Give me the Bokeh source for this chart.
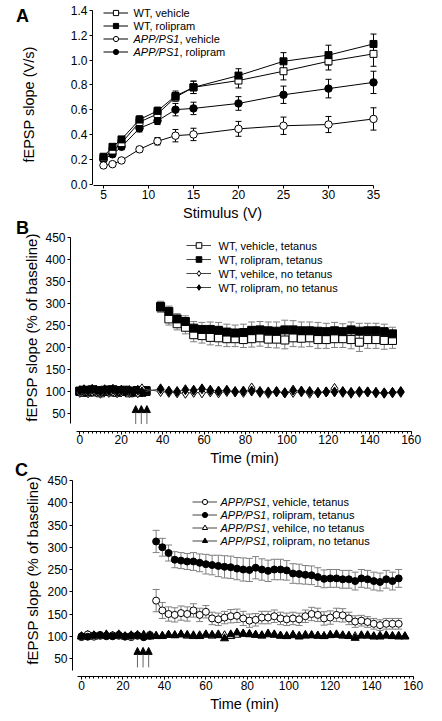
import math
from bokeh.plotting import figure
from bokeh.models import (ColumnDataSource, Whisker, TeeHead, Legend, LegendItem, Label,
                          FixedTicker, PrintfTickFormatter, Range1d, Arrow, NormalHead,
                          LinearAxis)
from bokeh.embed import file_html
from bokeh.resources import INLINE

FONT = "Liberation Sans"

# ---------------- Panel A data ----------------
stim = [5, 6, 7, 9, 11, 13, 15, 20, 25, 30, 35]
a_wt_veh = [0.21, 0.27, 0.33, 0.50, 0.565, 0.70, 0.78, 0.835, 0.91, 0.99, 1.05]
a_wt_veh_err = [0.02, 0.02, 0.02, 0.03, 0.03, 0.03, 0.05, 0.06, 0.07, 0.07, 0.10]
a_wt_rol = [0.22, 0.30, 0.36, 0.52, 0.59, 0.71, 0.78, 0.875, 0.99, 1.04, 1.13]
a_wt_rol_err = [0.02, 0.02, 0.02, 0.03, 0.03, 0.04, 0.05, 0.055, 0.07, 0.08, 0.08]
a_app_veh = [0.15, 0.16, 0.19, 0.28, 0.345, 0.39, 0.40, 0.445, 0.47, 0.48, 0.525]
a_app_veh_err = [0.01, 0.01, 0.01, 0.02, 0.03, 0.05, 0.05, 0.06, 0.07, 0.065, 0.09]
a_app_rol = [0.20, 0.24, 0.30, 0.45, 0.51, 0.60, 0.61, 0.65, 0.72, 0.77, 0.82]
a_app_rol_err = [0.02, 0.02, 0.02, 0.03, 0.03, 0.05, 0.05, 0.055, 0.07, 0.075, 0.09]
a_xticks = [5, 10, 15, 20, 25, 30, 35]
a_yticks = [0.0, 0.2, 0.4, 0.6, 0.8, 1.0, 1.2, 1.4]

# ---------------- Panel B data ----------------
b_base_t = [0, 2, 4, 6, 8, 10, 12, 14, 16, 18, 20, 22, 24, 26, 28, 30, 32]
b_wt_veh_base = [100, 98, 102, 99, 101, 97, 100, 103, 99, 98, 101, 100, 97, 99, 102, 98, 100]
b_wt_rol_base = [101, 103, 99, 104, 102, 100, 103, 101, 104, 102, 100, 103, 101, 99, 102, 100, 102]
b_post_t = [39, 43, 47, 51, 55, 59, 63, 67, 71, 75, 79, 83, 87, 91, 95, 99, 103, 107, 111,
            115, 119, 123, 127, 131, 135, 139, 143, 147, 151]
b_wt_veh_tet = [292, 265, 254, 246, 229, 227, 223, 222, 220, 220, 218, 220, 222, 219, 219,
                217, 222, 221, 222, 218, 218, 220, 220, 218, 212, 218, 218, 216, 216]
b_wt_veh_tet_err = [12, 14, 14, 15, 16, 17, 17, 18, 18, 18, 18, 19, 19, 19, 20, 20, 20, 20,
                    20, 20, 20, 20, 20, 21, 21, 20, 20, 20, 18]
b_wt_rol_tet = [293, 282, 265, 259, 244, 241, 241, 239, 235, 233, 234, 239, 240, 238, 237,
                240, 240, 238, 238, 237, 236, 238, 236, 240, 237, 238, 238, 236, 231]
b_wt_rol_tet_err = [12, 12, 12, 13, 15, 16, 17, 18, 18, 18, 19, 19, 19, 20, 21, 22, 21, 20,
                    20, 20, 19, 19, 18, 18, 18, 17, 17, 17, 15]
b_nt_t = [0, 2, 4, 6, 8, 10, 12, 14, 16, 18, 20, 22, 24, 26, 28, 30,
          39, 43, 47, 51, 55, 59, 63, 67, 71, 75, 79, 83, 87, 91, 95, 99, 103, 107, 111,
          115, 119, 123, 127, 131, 135, 139, 143, 147, 151, 155]
b_wt_veh_nt = [98, 101, 97, 100, 99, 96, 101, 98, 100, 97, 99, 101, 98, 100, 97, 106,
               100, 98, 97, 96, 98, 97, 99, 97, 100, 99, 98, 108, 98, 96, 99, 97, 98, 99,
               96, 97, 99, 107, 98, 96, 98, 99, 97, 96, 97, 98]
b_wt_rol_nt = [102, 104, 101, 105, 103, 100, 104, 102, 105, 101, 103, 100, 102, 99, 103, 99,
               106, 101, 100, 104, 103, 106, 103, 101, 103, 100, 101, 101, 100, 99, 100, 97,
               103, 101, 100, 98, 99, 99, 100, 98, 100, 99, 98, 97, 98, 100]

# ---------------- Panel C data ----------------
c_base_t = [0, 3, 6, 9, 12, 15, 18, 21, 24, 27, 30, 33]
c_app_veh_base = [98, 104, 99, 101, 100, 102, 101, 99, 98, 101, 99, 103]
c_app_rol_base = [100, 99, 102, 103, 101, 100, 103, 100, 101, 102, 98, 101]
c_post_t = [36, 39, 42, 45, 48, 51, 54, 57, 60, 63, 66, 69, 72, 75, 78, 81, 84, 87, 90, 93,
            96, 99, 102, 105, 108, 111, 114, 117, 120, 123, 126, 129, 132, 135, 138, 141,
            144, 147, 150, 153]
c_app_rol_tet = [313, 300, 287, 272, 270, 268, 268, 265, 262, 260, 258, 256, 255, 252, 250,
                 249, 254, 250, 247, 250, 250, 248, 241, 240, 238, 237, 233, 229, 230, 230,
                 228, 228, 224, 230, 228, 224, 222, 228, 224, 230]
c_app_rol_tet_err = [25, 20, 18, 18, 18, 18, 20, 20, 22, 22, 24, 25, 25, 25, 26, 26, 25, 24,
                     24, 23, 23, 22, 22, 22, 21, 21, 21, 20, 20, 20, 20, 20, 20, 20, 20, 20,
                     20, 20, 20, 20]
c_app_veh_tet = [180, 158, 150, 148, 152, 150, 158, 148, 155, 140, 138, 142, 145, 146, 140,
                 135, 137, 142, 142, 145, 140, 138, 140, 138, 145, 150, 148, 140, 142, 148,
                 147, 140, 133, 135, 132, 128, 125, 128, 128, 128]
c_app_veh_tet_err = [25, 18, 16, 16, 16, 16, 15, 15, 14, 14, 14, 14, 15, 15, 16, 15, 14, 14,
                     14, 14, 14, 14, 14, 14, 14, 15, 15, 15, 15, 15, 15, 14, 13, 12, 12, 12,
                     12, 12, 12, 12]
c_nt_t = [0, 3, 6, 9, 12, 15, 18, 21, 24, 27, 30, 33, 36, 39, 42, 45, 48, 51, 54, 57, 60, 63,
          66, 69, 72, 75, 78, 81, 84, 87, 90, 93, 96, 99, 102, 105, 108, 111, 114, 117, 120,
          123, 126, 129, 132, 135, 138, 141, 144, 147, 150, 153, 156]
c_app_veh_nt = [100, 103, 99, 101, 104, 100, 102, 99, 101, 103,
                100, 102, 101, 100, 103, 102, 104, 101, 100, 102,
                103, 101, 104, 102, 100, 103, 105, 104, 103, 101,
                106, 104, 101, 100, 102, 101, 103, 102, 101, 100,
                103, 104, 102, 101, 100, 102, 101, 99, 101, 102,
                100, 101, 99]
c_app_rol_nt = [99, 101, 102, 100, 103, 101, 104, 100, 102, 101,
                103, 99, 100, 101, 103, 102, 104, 103, 102, 100,
                104, 103, 102, 95, 104, 108, 106, 105, 103, 102,
                104, 103, 101, 100, 103, 99, 101, 102, 101, 100,
                102, 103, 101, 100, 96, 101, 102, 100, 99, 101,
                100, 99, 100]

time_ticks = [0, 20, 40, 60, 80, 100, 120, 140, 160]
time_minor = [0, 2, 4, 6, 8, 10, 12, 14, 16, 18, 20, 22, 24, 26, 28, 30, 32, 34, 36, 38, 40,
              42, 44, 46, 48, 50, 52, 54, 56, 58, 60, 62, 64, 66, 68, 70, 72, 74, 76, 78, 80,
              82, 84, 86, 88, 90, 92, 94, 96, 98, 100, 102, 104, 106, 108, 110, 112, 114, 116,
              118, 120, 122, 124, 126, 128, 130, 132, 134, 136, 138, 140, 142, 144, 146, 148,
              150, 152, 154, 156, 158, 160]
pct_ticks = [50, 100, 150, 200, 250, 300, 350, 400, 450]
tetanus_times = [27.0, 29.7, 32.4]

ITALIC_W = 45.9  # width of italic "APP/PS1" at 11px
W, H = 442, 721

# One canvas; each panel has its own x/y range mapping onto it.
p = figure(width=W, height=H, x_range=Range1d(-6.444, 42.667), y_range=Range1d(-4.337, 1.4807),
           output_backend="svg", toolbar_location=None,
           min_border=0, min_border_left=0, min_border_top=0,
           min_border_right=0, min_border_bottom=0)
p.extra_x_ranges = {"xB": Range1d(-38.29, 175.14), "xC": Range1d(-39.07, 174.14)}
p.extra_y_ranges = {"yB": Range1d(-650.0, 988.6), "yC": Range1d(-91.57, 1528.65)}
p.outline_line_color = None
p.grid.visible = False


def style_axis(ax, label_standoff):
    ax.axis_line_color = "black"
    ax.axis_line_width = 1
    ax.major_tick_line_color = "black"
    ax.major_tick_in = 0
    ax.major_tick_out = 3
    ax.minor_tick_line_color = None
    ax.major_label_text_font = FONT
    ax.major_label_text_font_size = "12px"
    ax.major_label_text_color = "black"
    ax.major_label_standoff = label_standoff
    ax.axis_label = None


def text_at(text, x, y, size, style="normal", angle=0.0, align="center"):
    # x, y in picture pixels from the top-left corner
    p.add_layout(Label(x=x, y=H - y, x_units="screen", y_units="screen", text=text,
                       text_font=FONT, text_font_size=size, text_font_style=style,
                       text_align=align, text_baseline="middle", text_color="black",
                       angle=angle))


def series(x, y, marker, fill, size, xr="default", yr="default", line_col="black"):
    src = ColumnDataSource(dict(x=x, y=y))
    ln = p.line("x", "y", source=src, line_color=line_col, line_width=1,
                x_range_name=xr, y_range_name=yr)
    sc = p.scatter("x", "y", source=src, marker=marker, size=size, fill_color=fill,
                   line_color="black", line_width=1, x_range_name=xr, y_range_name=yr)
    return ln, sc


def errbars(x, y, e, color, head, xr="default", yr="default"):
    lo = [a - b for a, b in zip(y, e)]
    hi = [a + b for a, b in zip(y, e)]
    src = ColumnDataSource(dict(x=x, lo=lo, hi=hi))
    w = Whisker(source=src, base="x", lower="lo", upper="hi", line_color=color, line_width=1,
                lower_head=TeeHead(size=head, line_color=color, line_width=1),
                upper_head=TeeHead(size=head, line_color=color, line_width=1),
                level="underlay", x_range_name=xr, y_range_name=yr)
    p.add_layout(w)


def add_legend(entries, vx, vy, pitch, standoff):
    items = [LegendItem(label="", renderers=list(r)) for r, _ in entries]
    leg = Legend(items=items, location=(vx, vy), orientation="vertical", padding=0, margin=0,
                 spacing=0, glyph_width=25, glyph_height=pitch, label_height=pitch,
                 label_width=0, label_standoff=standoff, border_line_color=None,
                 background_fill_alpha=0, label_text_font_size="11px")
    p.add_layout(leg)
    n = len(entries)
    for i, (_, parts) in enumerate(entries):
        cy = vy + (n - i - 0.5) * pitch
        x = vx + 25 + standoff
        for text, italic in parts:
            p.add_layout(Label(x=x, y=cy, x_units="screen", y_units="screen", text=text,
                               text_font=FONT, text_font_size="11px",
                               text_font_style="italic" if italic else "normal",
                               text_baseline="middle", text_align="left", text_color="black"))
            if italic:
                x += ITALIC_W


def tetanus_arrows(y0, y1, xr, yr):
    src = ColumnDataSource(dict(x=tetanus_times, y0=[y0] * len(tetanus_times),
                                y1=[y1] * len(tetanus_times)))
    p.add_layout(Arrow(end=NormalHead(size=7, fill_color="black", line_color="black",
                                      line_width=1),
                       x_start="x", y_start="y0", x_end="x", y_end="y1", source=src,
                       line_color="#666666", line_width=1, x_range_name=xr, y_range_name=yr))


ROT = math.pi / 2

# ================= Panel A =================
axA_x = p.xaxis[0]
axA_y = p.yaxis[0]
style_axis(axA_x, 1)
style_axis(axA_y, 2)
axA_x.ticker = FixedTicker(ticks=a_xticks)
axA_y.ticker = FixedTicker(ticks=a_yticks)
axA_y.formatter = PrintfTickFormatter(format="%.1f")
axA_x.fixed_location = -0.0121
axA_y.fixed_location = 3.778
axA_x.bounds = (3.9, 35)
axA_y.bounds = (0, 1.4)

for yv, e in ((a_wt_veh, a_wt_veh_err), (a_wt_rol, a_wt_rol_err),
              (a_app_veh, a_app_veh_err), (a_app_rol, a_app_rol_err)):
    errbars(stim, yv, e, "black", 6)
rA4 = series(stim, a_app_rol, "circle", "black", 7.5)
rA3 = series(stim, a_app_veh, "circle", "white", 7.5)
rA1 = series(stim, a_wt_veh, "square", "white", 7)
rA2 = series(stim, a_wt_rol, "square", "black", 7)
add_legend([(rA1, [("WT, vehicle", False)]),
            (rA2, [("WT, rolipram", False)]),
            (rA3, [("APP/PS1", True), (", vehicle", False)]),
            (rA4, [("APP/PS1", True), (", rolipram", False)])],
           103, H - 58.2, 13, 5)
text_at("A", 22, 15, "18px", "bold")
text_at("Stimulus (V)", 222, 212, "14.5px")
text_at("fEPSP slope (V/s)", 28, 104, "14.5px", angle=ROT)

# ================= Panel B =================
axB_x = LinearAxis(x_range_name="xB", y_range_name="yB")
axB_y = LinearAxis(x_range_name="xB", y_range_name="yB")
style_axis(axB_x, 1)
style_axis(axB_y, 2)
axB_x.ticker = FixedTicker(ticks=time_ticks, minor_ticks=time_minor)
axB_x.minor_tick_line_color = "black"
axB_x.minor_tick_in = 0
axB_x.minor_tick_out = 2
axB_y.ticker = FixedTicker(ticks=pct_ticks)
axB_x.fixed_location = 9.09
axB_y.fixed_location = -4.49
axB_x.bounds = (-1.5, 160)
axB_y.bounds = (27, 450)
p.add_layout(axB_x, "below")
p.add_layout(axB_y, "left")

errbars(b_post_t, b_wt_veh_tet, b_wt_veh_tet_err, "#808080", 7, "xB", "yB")
errbars(b_post_t, b_wt_rol_tet, b_wt_rol_tet_err, "#808080", 7, "xB", "yB")
series(b_base_t, b_wt_veh_base, "square", "white", 8, "xB", "yB", "#444444")
series(b_base_t, b_wt_rol_base, "square", "black", 8, "xB", "yB", "#444444")
rB1 = series(b_post_t, b_wt_veh_tet, "square", "white", 8, "xB", "yB", "#444444")
rB2 = series(b_post_t, b_wt_rol_tet, "square", "black", 8, "xB", "yB", "#444444")
rB3 = series(b_nt_t, b_wt_veh_nt, "diamond", "white", 10, "xB", "yB", "#444444")
rB4 = series(b_nt_t, b_wt_rol_nt, "diamond", "black", 10, "xB", "yB", "#444444")
tetanus_arrows(26, 68, "xB", "yB")
add_legend([(rB1, [("WT, vehicle, tetanus", False)]),
            (rB2, [("WT, rolipram, tetanus", False)]),
            (rB3, [("WT, vehilce, no tetanus", False)]),
            (rB4, [("WT, rolipram, no tetanus", False)])],
           186, H - 294, 14, 7)
text_at("B", 22, 227, "18px", "bold")
text_at("Time (min)", 244, 457, "14.5px")
text_at("fEPSP slope (% of baseline)", 31, 327, "15px", angle=ROT)

# ================= Panel C =================
axC_x = LinearAxis(x_range_name="xC", y_range_name="yC")
axC_y = LinearAxis(x_range_name="xC", y_range_name="yC")
style_axis(axC_x, 1)
style_axis(axC_y, 2)
axC_x.ticker = FixedTicker(ticks=time_ticks, minor_ticks=time_minor)
axC_x.minor_tick_line_color = "black"
axC_x.minor_tick_in = 0
axC_x.minor_tick_out = 2
axC_y.ticker = FixedTicker(ticks=pct_ticks)
axC_x.fixed_location = 9.55
axC_y.fixed_location = -4.34
axC_x.bounds = (-2, 160)
axC_y.bounds = (23, 450)
p.add_layout(axC_x, "below")
p.add_layout(axC_y, "left")

errbars(c_post_t, c_app_veh_tet, c_app_veh_tet_err, "#808080", 7, "xC", "yC")
errbars(c_post_t, c_app_rol_tet, c_app_rol_tet_err, "#808080", 7, "xC", "yC")
rC3 = series(c_nt_t, c_app_veh_nt, "triangle", "white", 8, "xC", "yC", "#444444")
rC4 = series(c_nt_t, c_app_rol_nt, "triangle", "black", 8, "xC", "yC", "#444444")
series(c_base_t, c_app_veh_base, "circle", "white", 7, "xC", "yC", "#444444")
series(c_base_t, c_app_rol_base, "circle", "black", 7, "xC", "yC", "#444444")
rC1 = series(c_post_t, c_app_veh_tet, "circle", "white", 7, "xC", "yC", "#444444")
rC2 = series(c_post_t, c_app_rol_tet, "circle", "black", 7, "xC", "yC", "#444444")
tetanus_arrows(30, 75, "xC", "yC")
add_legend([(rC1, [("APP/PS1", True), (", vehicle, tetanus", False)]),
            (rC2, [("APP/PS1", True), (", rolipram, tetanus", False)]),
            (rC3, [("APP/PS1", True), (", vehilce, no tetanus", False)]),
            (rC4, [("APP/PS1", True), (", rolipram, no tetanus", False)])],
           192, H - 546.5, 13, 3)
text_at("C", 21, 469.5, "18px", "bold")
text_at("Time (min)", 244, 703, "14.5px")
text_at("fEPSP slope (% of baseline)", 32, 570, "15px", angle=ROT)

open("out.html", "w").write(file_html(p, INLINE))
